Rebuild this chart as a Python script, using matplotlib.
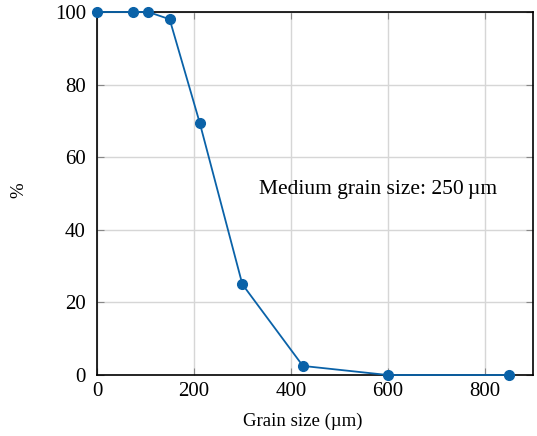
import matplotlib
matplotlib.use("Agg")
import matplotlib.pyplot as plt

grain_size = [0, 75, 106, 150, 212, 300, 425, 600, 850]
percent = [100, 100, 100, 98, 69.5, 25, 2.5, 0, 0]
x_ticks = [0, 200, 400, 600, 800]
y_ticks = [0, 20, 40, 60, 80, 100]

plt.rcParams['font.family'] = ['Liberation Serif', 'DejaVu Serif']

fig = plt.figure(figsize=(5.37, 4.36), dpi=100)
ax = fig.add_axes([0.1806, 0.1399, 0.8120, 0.8326])
color = '#0a62a8'
ax.plot(grain_size, percent, '-o', color=color, lw=1.3, ms=7, clip_on=False, zorder=5)
ax.set_xlim(0, 900)
ax.set_ylim(0, 100)
ax.set_xticks(x_ticks)
ax.set_yticks(y_ticks)
ax.grid(True, color='#d6d6d6', lw=1.0)
ax.set_axisbelow(True)
ax.tick_params(direction='in', top=True, right=True, labelsize=15, length=5, color='#888888')
ax.tick_params(axis='y', pad=8)
ax.tick_params(axis='x', pad=5)
for s in ax.spines.values():
    s.set_linewidth(1.2)
    s.set_color('black')
ax.set_xlabel('Grain size (µm)', fontsize=13.5)
ax.xaxis.set_label_coords(0.473, -0.105)
ax.set_ylabel('%', fontsize=13.5)
ax.yaxis.set_label_coords(-0.16, 0.51)
ax.text(580, 51, 'Medium grain size: 250\u2009µm', fontsize=15.5, ha='center', va='center')
fig.savefig('out.png', dpi=100)
